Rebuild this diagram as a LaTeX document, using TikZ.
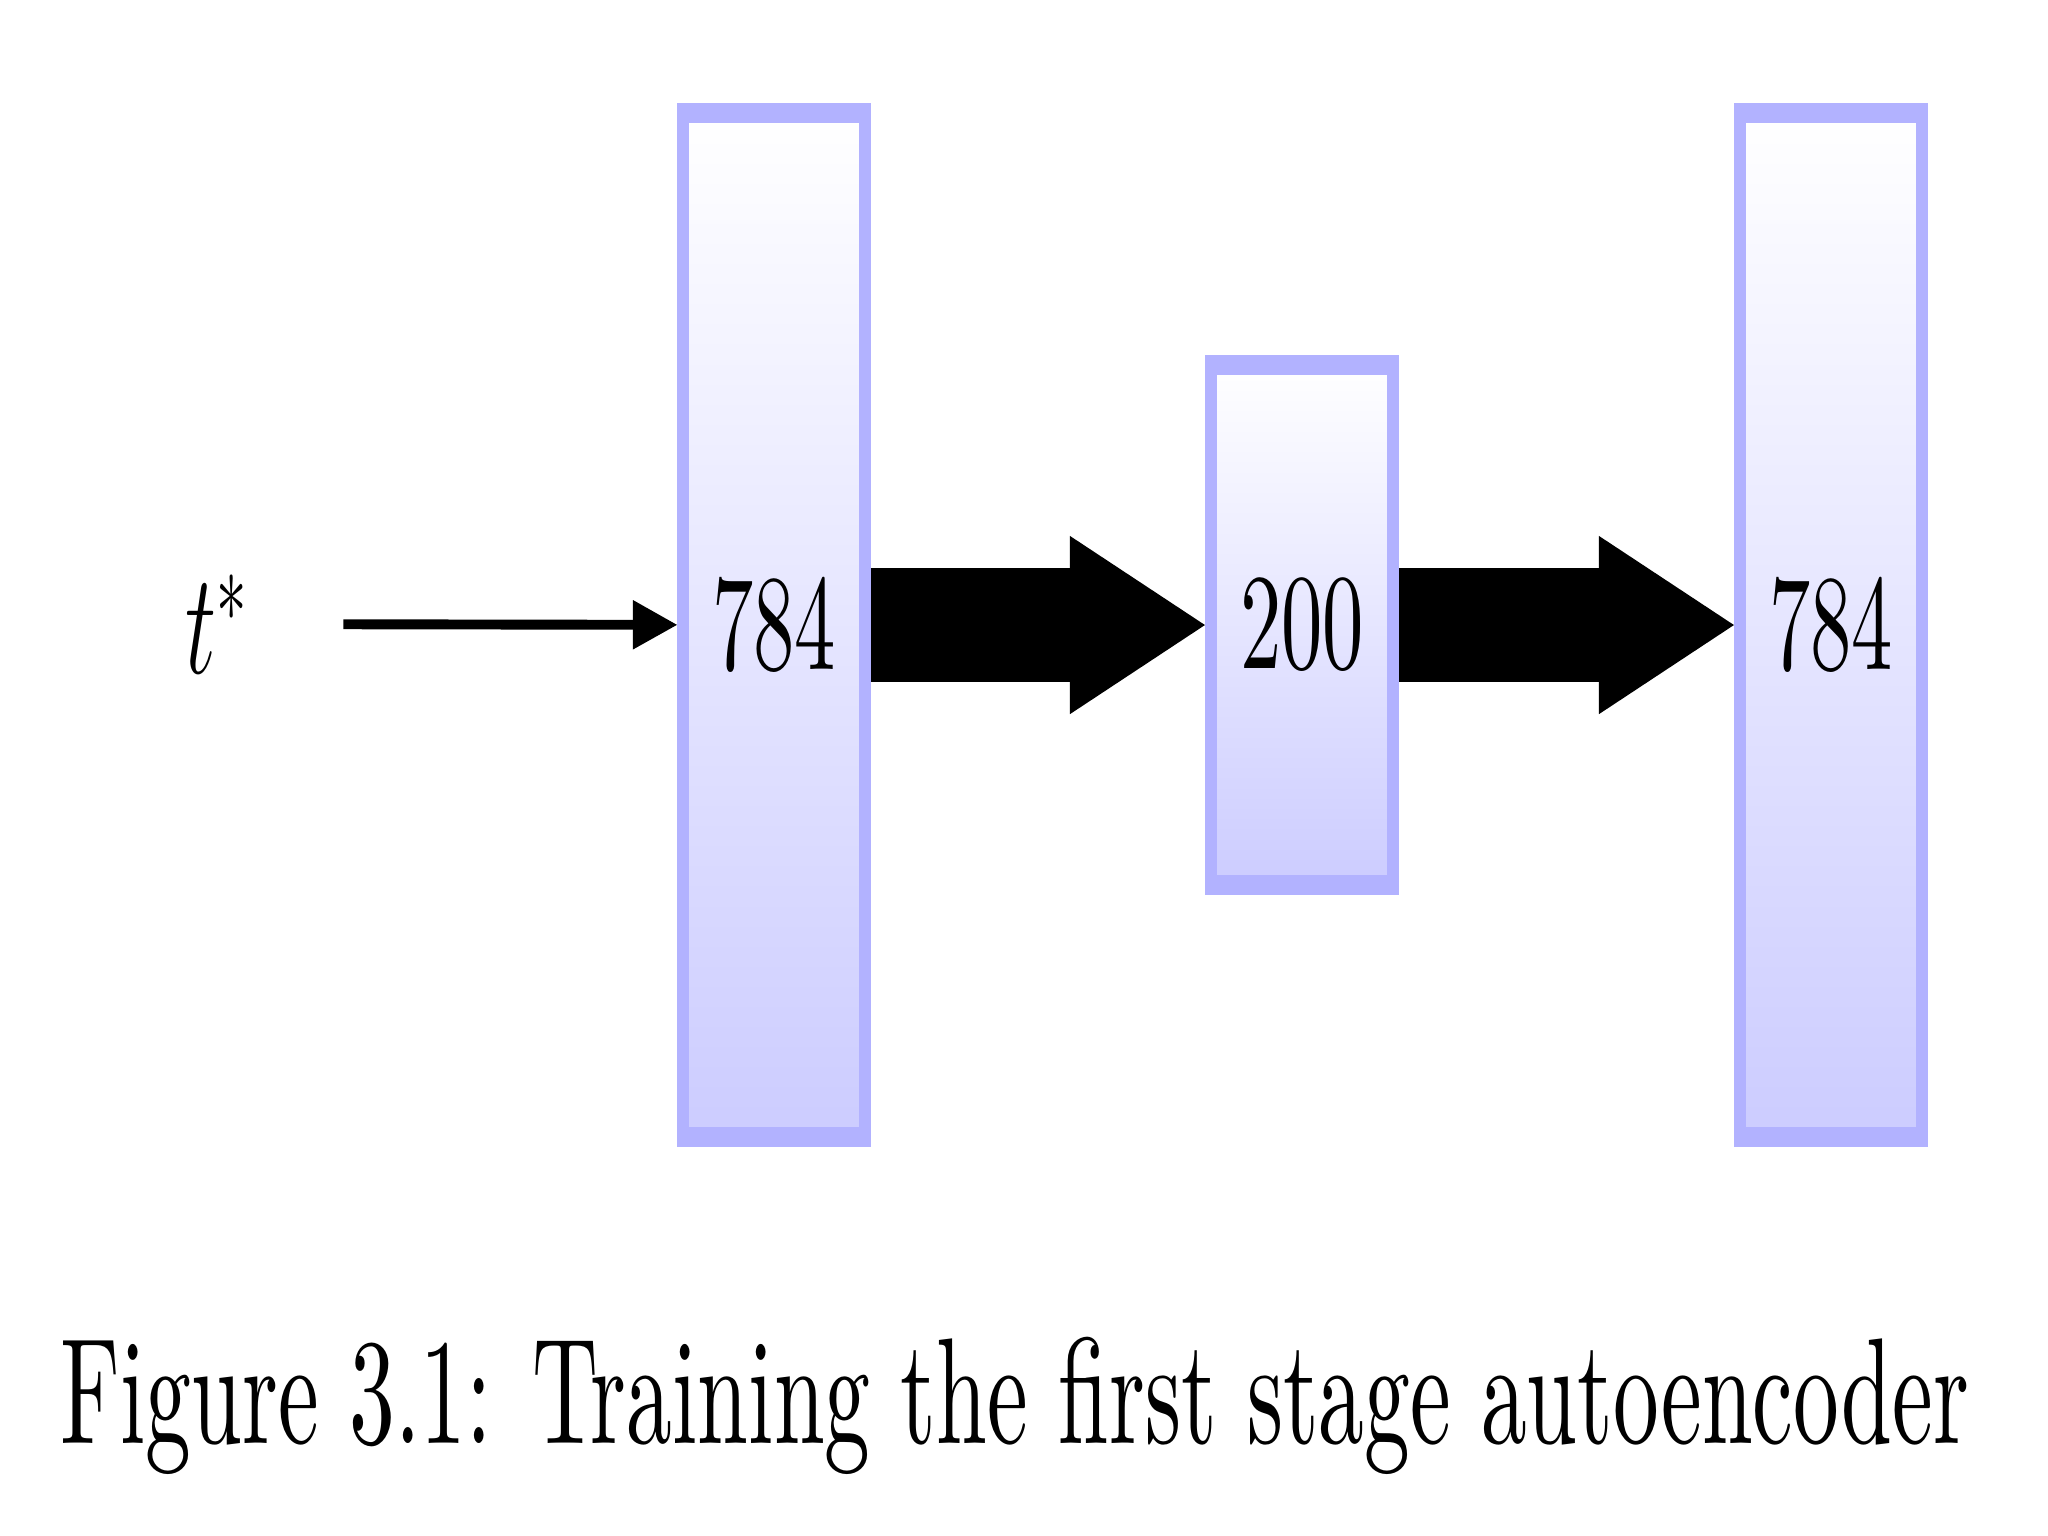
\documentclass[tikz,border=0pt]{standalone}
\usepackage{amssymb, amsmath}
\usepackage{fontspec}
\usepackage{tikz}
\usetikzlibrary{arrows.meta}

\newfontfamily\tenrm{lmroman10-regular.otf}

\tikzset{
  layer/.style={rectangle, draw=blue!30, line width=0.12cm, top color=white,
    bottom color=blue!20, minimum width=1.82cm, inner sep=0pt,
    font=\tenrm\fontsize{23.5}{28}\selectfont},
  bigarrow/.style={line width=0.69cm, -{Triangle[length=1.35cm, width=1.08cm, line width=0pt]}},
  inarrow/.style={line width=0.06cm, -{Triangle[length=0.44cm, width=0.30cm, line width=0pt]}}
}

\begin{document}
\begin{tikzpicture}[x=0.01cm, y=-0.01cm]

  \useasboundingbox (0, 0) rectangle (2048, 1536);

  % the whole figure is stretched vertically
  \begin{scope}[y=-0.0060606cm, transform canvas={yscale=1.65}]

    \node[layer, minimum height=6.20cm] (in) at (774, 625) {784};
    \node[layer, minimum height=3.15cm] (code) at (1302, 625) {200};
    \node[layer, minimum height=6.20cm] (out) at (1831, 625) {784};

    \node[inner sep=0pt, font=\fontsize{23.5}{28}\selectfont] (tin) at (217, 624) {$t^*$};

    \draw[inarrow, shorten <=0.94cm] (tin) -- (in);
    \draw[bigarrow] (in) -- (code);
    \draw[bigarrow] (code) -- (out);

    \node[anchor=base, inner sep=0pt, font=\tenrm\fontsize{26}{31}\selectfont] (cap) at (1015, 1443)
      {Figure 3.1: Training the first stage autoencoder};

  \end{scope}

\end{tikzpicture}
\end{document}
